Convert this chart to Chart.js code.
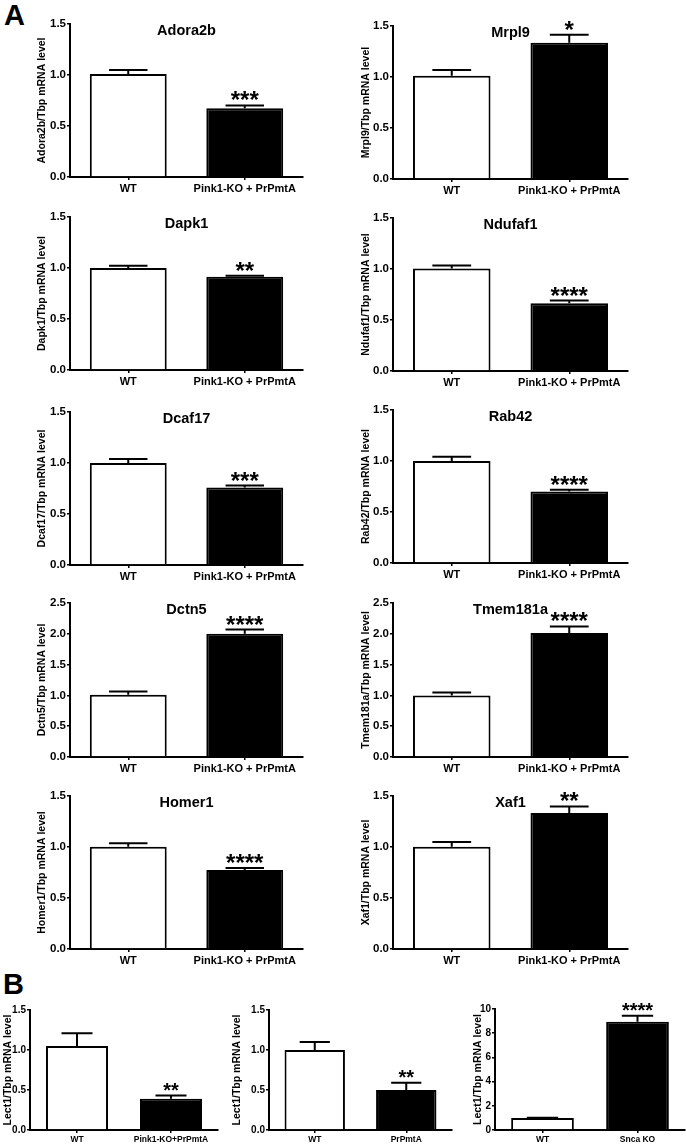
<!DOCTYPE html>
<html>
<head>
<meta charset="utf-8">
<script src="https://cdn.jsdelivr.net/npm/chart.js@4.4.1/dist/chart.umd.min.js"></script>
<style>
  body { margin: 0; background: #fff; }
  #fig { position: relative; width: 686px; height: 1145px; overflow: hidden; background: #fff; }
  #fig canvas { position: absolute; }
  .lbl { position: absolute; font: bold 29px "Liberation Sans", Arial, sans-serif; line-height: 28px; }
</style>
</head>
<body>
<div id="fig">
  <div class="lbl" style="left:4px; top:1px">A</div>
  <div class="lbl" style="left:3px; top:970px">B</div>
</div>
<script>
const FONT = "'Liberation Sans', Arial, sans-serif";

// panel A: WT vs Pink1-KO + PrPmtA, mean and SEM per gene
const groupsA = ["WT", "Pink1-KO + PrPmtA"];
const genesA = ["Adora2b", "Mrpl9", "Dapk1", "Ndufaf1", "Dcaf17", "Rab42", "Dctn5", "Tmem181a", "Homer1", "Xaf1"];
const wtA = [1.01, 1.013, 1.0, 1.005, 1.0, 1.0, 1.01, 1.0, 1.003, 1.003];
const wtErrA = [0.04, 0.055, 0.022, 0.03, 0.04, 0.042, 0.055, 0.047, 0.033, 0.047];
const koA = [0.675, 1.335, 0.915, 0.665, 0.76, 0.70, 2.0, 2.015, 0.775, 1.333];
const koErrA = [0.027, 0.08, 0.01, 0.025, 0.02, 0.018, 0.07, 0.105, 0.018, 0.065];
const starsA = ["***", "*", "**", "****", "***", "****", "****", "****", "****", "**"];
const yMaxA = [1.5, 1.5, 1.5, 1.5, 1.5, 1.5, 2.5, 2.5, 1.5, 1.5];

// panel B: Lect1
const groupsB = [["WT", "Pink1-KO+PrPmtA"], ["WT", "PrPmtA"], ["WT", "Snca KO"]];
const wtB = [1.05, 1.0, 1.0];
const wtErrB = [0.16, 0.1, 0.02];
const koB = [0.39, 0.5, 8.95];
const koErrB = [0.04, 0.09, 0.5];
const starsB = ["**", "**", "****"];
const yMaxB = [1.5, 1.5, 10];
const yStepB = [0.5, 0.5, 2];

// plot-area boxes
const colsA = [
    {x: 0, w: 320, l: 70, r: 303, titleX: 42.5},
    {x: 343, w: 320, l: 393, r: 628, titleX: 366},
];
const rowsA = [[24, 177, 26, 179], [217, 370, 218, 371], [412, 565, 410, 563], [603, 757, 603, 757], [796, 949, 796, 949]];
const boxB = [
    {x: 0, w: 228, l: 30, r: 218, top: 1010, bottom: 1130, titleX: 8},
    {x: 228, w: 228, l: 269, r: 452, top: 1010, bottom: 1130, titleX: 237.5},
    {x: 458, w: 228, l: 495, r: 685, top: 1009, bottom: 1130, titleX: 478},
];

Chart.defaults.font.family = FONT;
Chart.defaults.font.weight = "bold";
Chart.defaults.color = "#000";

(() => {
    for (let i = 0; i < genesA.length; i++) {
        const col = colsA[i % 2];
        const row = rowsA[Math.floor(i / 2)];
        makeChart({
            x: col.x, w: col.w, l: col.l, r: col.r, titleX: col.titleX,
            top: row[(i % 2) * 2], bottom: row[(i % 2) * 2 + 1],
            padTop: 22, xH: 24,
            labels: groupsA, means: [wtA[i], koA[i]], errs: [wtErrA[i], koErrA[i]],
            stars: starsA[i], title: genesA[i],
            yMax: yMaxA[i], yStep: 0.5, dec: 1,
            yTitle: `${genesA[i]}/Tbp mRNA level`,
            tickSize: 11.5, labelSize: 11, starSize: 24,
        });
    }
    for (let i = 0; i < boxB.length; i++) {
        const b = boxB[i];
        makeChart({
            x: b.x, w: b.w, l: b.l, r: b.r, titleX: b.titleX,
            top: b.top, bottom: b.bottom,
            padTop: 20, xH: 15,
            labels: groupsB[i], means: [wtB[i], koB[i]], errs: [wtErrB[i], koErrB[i]],
            stars: starsB[i], title: null,
            yMax: yMaxB[i], yStep: yStepB[i], dec: yStepB[i] < 1 ? 1 : 0,
            yTitle: "Lect1/Tbp mRNA level",
            tickSize: 10, labelSize: 8.5, starSize: 20,
        });
    }
})();

function makeChart(p) {
    const fig = document.getElementById("fig");
    const cv = document.createElement("canvas");
    const cy = p.top - p.padTop;
    const h = p.bottom - cy + p.xH;
    cv.width = p.w;
    cv.height = h;
    cv.style.left = p.x + "px";
    cv.style.top = cy + "px";
    fig.appendChild(cv);

    const marks = {
        id: "marks",
        afterDatasetsDraw(chart) {
            const ctx = chart.ctx;
            const y = chart.scales.y;
            const area = chart.chartArea;
            const bars = chart.getDatasetMeta(0).data;
            ctx.save();
            ctx.strokeStyle = "#000";
            ctx.fillStyle = "#000";
            ctx.lineWidth = 2;
            bars.forEach((bar, i) => {
                const cap = y.getPixelForValue(p.means[i] + p.errs[i]);
                const half = bar.width / 4;
                ctx.beginPath();
                ctx.moveTo(bar.x, bar.y);
                ctx.lineTo(bar.x, cap);
                ctx.moveTo(bar.x - half, cap);
                ctx.lineTo(bar.x + half, cap);
                ctx.stroke();
            });
            // significance stars over the second group
            const cap = y.getPixelForValue(p.means[1] + p.errs[1]);
            ctx.font = `bold ${p.starSize}px ${FONT}`;
            ctx.textAlign = "center";
            ctx.textBaseline = "alphabetic";
            ctx.fillText(p.stars, bars[1].x, cap - 7 + 0.42 * p.starSize);
            if (p.title) {
                ctx.font = `bold 14.5px ${FONT}`;
                ctx.textBaseline = "middle";
                ctx.fillText(p.title, (area.left + area.right) / 2, area.top + 7);
            }
            ctx.restore();
        }
    };

    const config = {
        type: "bar",
        data: {
            labels: p.labels,
            datasets: [{
                data: p.means,
                backgroundColor: ["#fff", "#000"],
                borderColor: "#000",
                borderWidth: 2,
                barPercentage: 0.66,
                categoryPercentage: 1,
            }]
        },
        options: {
            responsive: false,
            animation: false,
            events: [],
            layout: {
                padding: {left: 0, top: p.padTop, right: p.x + p.w - p.r, bottom: 0}
            },
            scales: {
                x: {
                    grid: {display: true, drawOnChartArea: false, offset: false, tickLength: 3, color: "#000", lineWidth: 1.5},
                    border: {color: "#000", width: 2},
                    ticks: {font: {size: p.labelSize, weight: "bold"}, padding: 2, maxRotation: 0, autoSkip: false},
                    afterFit: (s) => { s.height = p.xH; },
                },
                y: {
                    min: 0,
                    max: p.yMax,
                    grid: {display: true, drawOnChartArea: false, tickLength: 3, color: "#000", lineWidth: 1.5},
                    border: {color: "#000", width: 2},
                    ticks: {
                        stepSize: p.yStep,
                        font: {size: p.tickSize, weight: "bold"},
                        padding: 1,
                        callback: (v) => Number(v).toFixed(p.dec),
                    },
                    title: {
                        display: true,
                        text: p.yTitle,
                        font: {size: 10.5, weight: "bold", lineHeight: 1.2},
                        padding: {top: p.titleX - p.x - 6.3, bottom: 0},
                    },
                    afterFit: (s) => { s.width = p.l - p.x; },
                },
            },
            plugins: {
                legend: {display: false},
                tooltip: {enabled: false},
            },
        },
        plugins: [marks],
    };
    new Chart(cv, config);
}
</script>
</body>
</html>
